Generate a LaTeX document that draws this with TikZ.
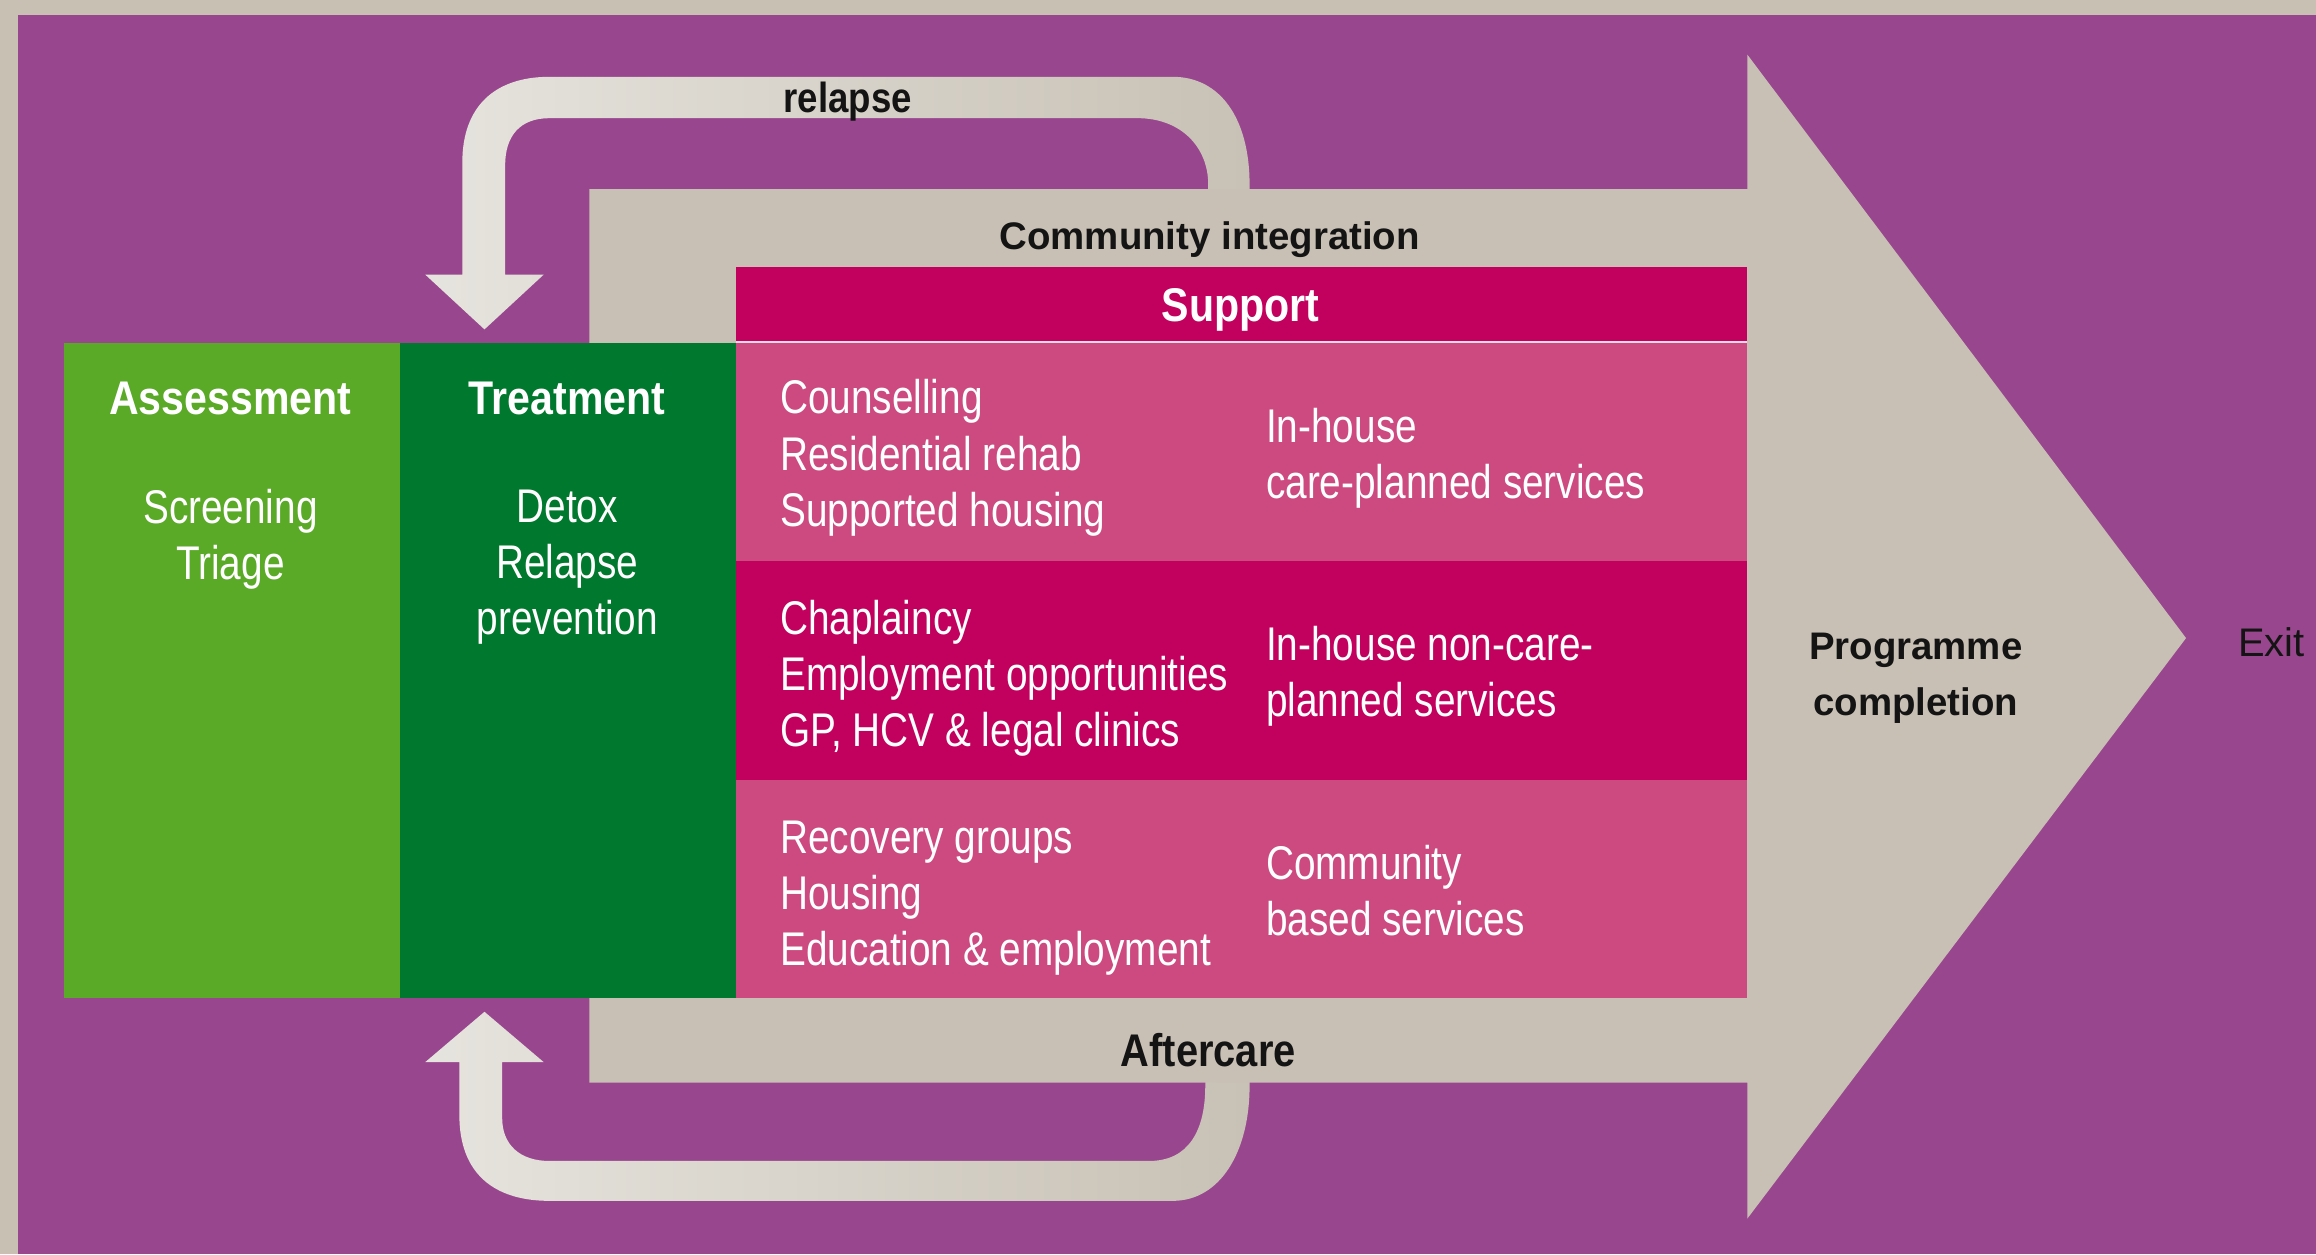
\documentclass[tikz,border=0pt]{standalone}
\usepackage{fontspec}
\setmainfont{Liberation Sans}
\newfontfamily\condfont[FakeStretch=0.82]{Liberation Sans}
\newfontfamily\hdrfont[FakeStretch=0.87]{Liberation Sans}
\definecolor{bgbeige}{HTML}{C8C1B3}
\definecolor{purplebg}{HTML}{98478E}
\definecolor{arrowbeige}{HTML}{C8C0B4}
\definecolor{loopleft}{HTML}{E6E4DE}
\definecolor{loopright}{HTML}{C8C1B5}
\definecolor{lightgreen}{HTML}{5AA927}
\definecolor{darkgreen}{HTML}{00782D}
\definecolor{magentabox}{HTML}{C2005E}
\definecolor{pinkbox}{HTML}{CD4A80}
\definecolor{darktext}{HTML}{141414}
\tikzset{
  hdr/.style={text=white, inner sep=0, font=\hdrfont\bfseries\fontsize{32}{38}\selectfont},
  bodyc/.style={text=white, inner sep=0, align=center, font=\condfont\fontsize{32}{38}\selectfont},
  bodyl/.style={text=white, inner sep=0, align=left, anchor=west, font=\condfont\fontsize{32}{38}\selectfont},
  darklbl/.style={text=darktext, inner sep=0, font=\bfseries\fontsize{26}{38}\selectfont},
  darkcond/.style={text=darktext, inner sep=0, font=\hdrfont\bfseries\fontsize{28}{34}\selectfont},
  loopshape/.style={left color=loopleft, right color=loopright, draw=none},
}
\begin{document}
\begin{tikzpicture}[x=1pt,y=-1pt]
\useasboundingbox (0,0) rectangle (1568,849);
% background
\fill[bgbeige] (0,0) rectangle (1568,849);
\fill[purplebg] (12,10) rectangle (1568,849);

% relapse loop (behind the big arrow)
\coordinate (relStart) at (832,132);
\coordinate (relEnd) at (328,223);
\shade[loopshape] (846,132) -- (846,125) .. controls (846,80) and (826,52) .. (794,52)
  -- (372,52) .. controls (335,52) and (313,72) .. (313,110)
  -- (313,186) -- (288,186) -- (relEnd) -- (368,186) -- (342,186)
  -- (342,112) .. controls (342,92) and (352,80) .. (372,80)
  -- (770,80) .. controls (800,80) and (818,100) .. (818,125)
  -- (818,132) -- cycle;
% aftercare loop
\coordinate (aftStart) at (832,729);
\coordinate (aftEnd) at (328,685);
\shade[loopshape] (846,729) -- (846,735) .. controls (846,780) and (826,813) .. (794,813)
  -- (372,813) .. controls (335,813) and (311,795) .. (311,755)
  -- (311,719) -- (288,719) -- (aftEnd) -- (368,719) -- (340,719)
  -- (340,757) .. controls (340,775) and (352,786) .. (372,786)
  -- (778,786) .. controls (805,786) and (816,765) .. (816,735)
  -- (816,729) -- cycle;

% big arrow
\fill[arrowbeige] (399,128) -- (1183,128) -- (1183,37) -- (1480,432)
   -- (1183,825) -- (1183,733) -- (399,733) -- cycle;

% boxes
\fill[lightgreen] (43,232) rectangle (271,676);
\fill[darkgreen] (271,232) rectangle (498,676);
\fill[magentabox] (498,181) rectangle (1183,231);
\fill[pinkbox] (498,232) rectangle (1183,380);
\fill[magentabox] (498,380) rectangle (1183,528);
\fill[pinkbox] (498,528) rectangle (1183,676);
\draw[white!80!pinkbox, line width=1.2pt] (498,231.5) -- (1183,231.5);

% labels
\node[darkcond, font=\hdrfont\bfseries\fontsize{28.5}{34}\selectfont] (relapse) at (574,69) {relapse};
\node[darklbl] (community) at (819,162) {Community integration};
\node[hdr] (support) at (840,210) {Support};
\node[hdr] (assess) at (156,270) {Assessment};
\node[hdr] (treat) at (384,270) {Treatment};
\node[bodyc] (assessItems) at (156,365) {Screening\\Triage};
\node[bodyc] (treatItems) at (384,384) {Detox\\Relapse\\prevention};

\node[bodyl] (row1l) at (528,310) {Counselling\\Residential rehab\\Supported housing};
\node[bodyl] (row1r) at (857,310) {In-house\\care-planned services};
\node[bodyl] (row2l) at (528,459) {Chaplaincy\\Employment opportunities\\GP, HCV \& legal clinics};
\node[bodyl] (row2r) at (857,458) {In-house non-care-\\planned services};
\node[bodyl] (row3l) at (528,608) {Recovery groups\\Housing\\Education \& employment};
\node[bodyl] (row3r) at (857,603) {Community\\based services};

\node[darkcond, font=\hdrfont\bfseries\fontsize{31}{34}\selectfont] (aftercare) at (818,711) {Aftercare};
\node[darklbl, align=center, font=\bfseries\fontsize{26}{38}\selectfont] (completion) at (1297,459) {Programme\\completion};
\node[text=darktext, inner sep=0, anchor=west, font=\fontsize{27}{34}\selectfont] (exit) at (1515,435) {Exit};
\end{tikzpicture}
\end{document}
